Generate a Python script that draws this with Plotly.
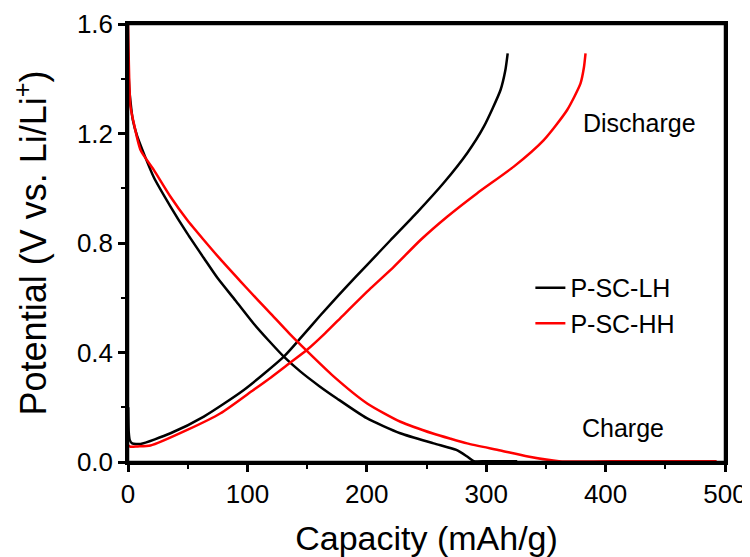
import plotly.graph_objects as go

# P-SC-LH (black)
lh_dis_x = [0, 0.5, 1, 2, 4, 7.7, 21.6, 35.6, 49.6, 63.5, 75, 90, 105, 118, 130.5, 144.5, 160, 175, 200, 228, 256, 275, 284, 289.6, 300, 326]
lh_dis_y = [1.48, 1.42, 1.37, 1.32, 1.25, 1.19, 1.04, 0.933, 0.835, 0.745, 0.672, 0.59, 0.507, 0.443, 0.385, 0.33, 0.278, 0.232, 0.16, 0.105, 0.068, 0.044, 0.02, 0.003, 0.003, 0.003]
lh_ch_x = [0.2, 0.6, 1.5, 3.5, 10.5, 35.6, 63.5, 97, 130.5, 145, 161, 180.7, 200.3, 219.8, 242.2, 264.5, 284, 298, 312, 316, 318]
lh_ch_y = [0.2, 0.11, 0.08, 0.068, 0.066, 0.105, 0.166, 0.263, 0.385, 0.455, 0.535, 0.63, 0.72, 0.81, 0.912, 1.02, 1.128, 1.225, 1.359, 1.43, 1.493]

# P-SC-HH (red)
hh_dis_x = [0, 0.5, 1, 2, 4.9, 10.5, 21.6, 35.6, 49.6, 63.5, 77.5, 94.2, 108.2, 119.3, 135, 150, 172.4, 200.3, 228.2, 256.1, 270, 284, 312, 335, 361, 420, 493]
hh_dis_y = [1.6, 1.5, 1.4, 1.3, 1.237, 1.14, 1.067, 0.969, 0.884, 0.811, 0.74, 0.66, 0.594, 0.543, 0.47, 0.405, 0.312, 0.214, 0.147, 0.103, 0.085, 0.068, 0.042, 0.02, 0.003, 0.003, 0.003]
hh_ch_x = [0.5, 2, 8, 18.8, 49.6, 77.5, 105, 120, 135, 150, 165, 180, 203.1, 222.6, 245, 267.3, 292.5, 323.1, 348.2, 367.8, 379, 381.8, 383.2]
hh_ch_y = [0.06, 0.056, 0.057, 0.06, 0.117, 0.178, 0.263, 0.31, 0.36, 0.41, 0.47, 0.535, 0.634, 0.713, 0.811, 0.896, 0.982, 1.079, 1.176, 1.286, 1.383, 1.44, 1.493]

font_family = "Arial, Liberation Sans, sans-serif"

fig = go.Figure()
fig.add_trace(go.Scatter(x=lh_dis_x, y=lh_dis_y, mode="lines", line=dict(color="black", width=2.5, shape="spline", smoothing=0.6), name="P-SC-LH", legendgroup="lh"))
fig.add_trace(go.Scatter(x=lh_ch_x, y=lh_ch_y, mode="lines", line=dict(color="black", width=2.5, shape="spline", smoothing=0.6), name="P-SC-LH", legendgroup="lh", showlegend=False))
fig.add_trace(go.Scatter(x=hh_dis_x, y=hh_dis_y, mode="lines", line=dict(color="red", width=2.5, shape="spline", smoothing=0.6), name="P-SC-HH", legendgroup="hh"))
fig.add_trace(go.Scatter(x=hh_ch_x, y=hh_ch_y, mode="lines", line=dict(color="red", width=2.5, shape="spline", smoothing=0.6), name="P-SC-HH", legendgroup="hh", showlegend=False))

fig.add_annotation(x=428.8, y=1.238, xref="x", yref="y", text="Discharge", showarrow=False, font=dict(size=25, color="black", family=font_family))
fig.add_annotation(x=414.6, y=0.124, xref="x", yref="y", text="Charge", showarrow=False, font=dict(size=25, color="black", family=font_family))

# plot frame
fig.add_shape(type="rect", xref="paper", yref="paper", x0=0, y0=0, x1=1, y1=1,
              line=dict(color="black", width=2.5), fillcolor="rgba(0,0,0,0)", layer="above")

axis_common = dict(
    showgrid=False, zeroline=False, showline=True, linecolor="black", linewidth=2.5,
    mirror=True, ticks="outside", ticklen=7, tickwidth=2.5, tickcolor="black",
    tickfont=dict(size=26, color="black", family=font_family), automargin=False,
)

fig.update_xaxes(range=[0, 500], dtick=100, tick0=0,
                 minor=dict(ticks="outside", dtick=50, ticklen=4, tickwidth=2, tickcolor="black"),
                 title=dict(text="Capacity (mAh/g)", font=dict(size=34, color="black", family=font_family), standoff=19),
                 **axis_common)
fig.update_yaxes(range=[0, 1.6], dtick=0.4, tick0=0, tickformat=".1f",
                 minor=dict(ticks="outside", dtick=0.2, ticklen=4, tickwidth=2, tickcolor="black"),
                 title=dict(text="Potential (V vs. Li/Li<sup>+</sup>)", font=dict(size=36, color="black", family=font_family), standoff=20),
                 **axis_common)

fig.update_layout(
    width=750, height=557,
    margin=dict(l=120, r=33, t=16, b=103, autoexpand=False),
    plot_bgcolor="white", paper_bgcolor="white",
    font=dict(family=font_family, color="black"),
    legend=dict(x=0.674, y=0.45, xanchor="left", yanchor="top", bgcolor="rgba(0,0,0,0)",
                font=dict(size=25, color="black", family=font_family), tracegroupgap=0),
)

fig.write_html("out.html")
